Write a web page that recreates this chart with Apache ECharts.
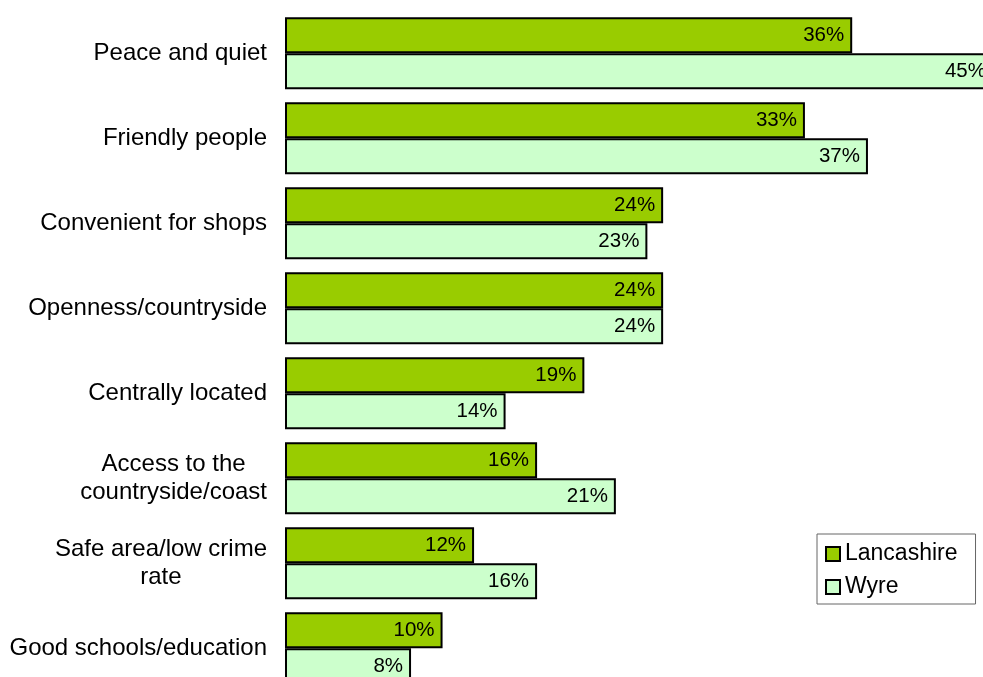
<!DOCTYPE html>
<html>
<head>
<meta charset="utf-8">
<script src="https://cdn.jsdelivr.net/npm/echarts@6/dist/echarts.min.js"></script>
<style>
html,body{margin:0;padding:0;background:#fff;}
#chart{width:983px;height:677px;}
</style>
</head>
<body>
<div id="chart"></div>
<script>
var categories = [
  "Peace and quiet",
  "Friendly people",
  "Convenient for shops",
  "Openness/countryside",
  "Centrally located",
  "Access to the\ncountryside/coast",
  "Safe area/low crime\nrate",
  "Good schools/education"
];
var lancashire = [36, 33, 24, 24, 19, 16, 12, 10];
var wyre = [45, 37, 23, 24, 14, 21, 16, 8];
var seriesNames = ["Lancashire", "Wyre"];

var FONT = "'Liberation Sans', Arial, sans-serif";
var chart = echarts.init(document.getElementById('chart'));

function barLabel() {
  return {
    show: true,
    position: 'insideRight',
    distance: 8,
    formatter: '{c}%',
    color: '#000',
    fontFamily: FONT,
    fontSize: 20.5
  };
}

chart.setOption({
  animation: false,
  backgroundColor: '#fff',
  grid: { left: 285, width: 709, top: 10.8, height: 680, containLabel: false, outerBoundsMode: 'none' },
  xAxis: {
    type: 'value', min: 0, max: 45,
    show: false,
    splitLine: { show: false }
  },
  yAxis: {
    type: 'category',
    data: categories,
    inverse: true,
    axisLine: { show: false },
    axisTick: { show: false },
    axisLabel: {
      margin: 18,
      align: 'right',
      color: '#000',
      fontFamily: FONT,
      fontSize: 24,
      lineHeight: 28,
      formatter: function (v) {
        return v.split('\n').map(function (l) { return '{c|' + l + '}'; }).join('\n');
      },
      rich: {
        c: { align: 'center', color: '#000', fontFamily: FONT, fontSize: 24, lineHeight: 28 }
      }
    }
  },
  legend: {
    orient: 'vertical',
    left: 817,
    top: 534,
    padding: [7, 18, 4, 8],
    itemGap: 7,
    itemWidth: 14,
    itemHeight: 14,
    icon: 'rect',
    borderColor: '#666',
    borderWidth: 1,
    borderRadius: 0,
    backgroundColor: '#fff',
    textStyle: { color: '#000', fontFamily: FONT, fontSize: 23, lineHeight: 26 },
    data: seriesNames
  },
  series: [
    {
      name: seriesNames[0],
      type: 'bar',
      data: lancashire,
      barWidth: 36,
      barGap: '0%',
      itemStyle: { color: '#99CC00', borderColor: '#000', borderWidth: 2 },
      label: barLabel()
    },
    {
      name: seriesNames[1],
      type: 'bar',
      data: wyre,
      barWidth: 36,
      barGap: '0%',
      itemStyle: { color: '#CCFFCC', borderColor: '#000', borderWidth: 2 },
      label: barLabel()
    }
  ]
});
</script>
</body>
</html>
